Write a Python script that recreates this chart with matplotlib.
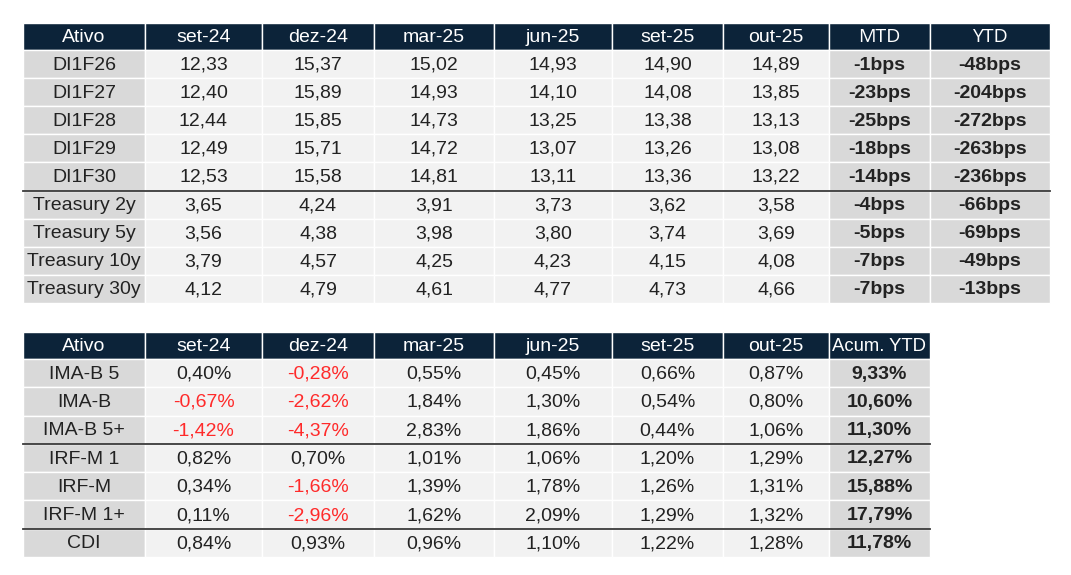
import matplotlib.pyplot as plt
from matplotlib.patches import Rectangle

plt.rcParams['font.family'] = ['Liberation Sans', 'DejaVu Sans']

# ---- data: tabela 1 (taxas) ----
periodos = ["set-24", "dez-24", "mar-25", "jun-25", "set-25", "out-25"]
ativos_juros = ["DI1F26", "DI1F27", "DI1F28", "DI1F29", "DI1F30",
                "Treasury 2y", "Treasury 5y", "Treasury 10y", "Treasury 30y"]
taxas = [
    [12.33, 15.37, 15.02, 14.93, 14.90, 14.89],
    [12.40, 15.89, 14.93, 14.10, 14.08, 13.85],
    [12.44, 15.85, 14.73, 13.25, 13.38, 13.13],
    [12.49, 15.71, 14.72, 13.07, 13.26, 13.08],
    [12.53, 15.58, 14.81, 13.11, 13.36, 13.22],
    [3.65, 4.24, 3.91, 3.73, 3.62, 3.58],
    [3.56, 4.38, 3.98, 3.80, 3.74, 3.69],
    [3.79, 4.57, 4.25, 4.23, 4.15, 4.08],
    [4.12, 4.79, 4.61, 4.77, 4.73, 4.66],
]
mtd_bps = [-1, -23, -25, -18, -14, -4, -5, -7, -7]
ytd_bps = [-48, -204, -272, -263, -236, -66, -69, -49, -13]

# ---- data: tabela 2 (indices) ----
ativos_indices = ["IMA-B 5", "IMA-B", "IMA-B 5+", "IRF-M 1", "IRF-M", "IRF-M 1+", "CDI"]
retornos = [
    [0.40, -0.28, 0.55, 0.45, 0.66, 0.87],
    [-0.67, -2.62, 1.84, 1.30, 0.54, 0.80],
    [-1.42, -4.37, 2.83, 1.86, 0.44, 1.06],
    [0.82, 0.70, 1.01, 1.06, 1.20, 1.29],
    [0.34, -1.66, 1.39, 1.78, 1.26, 1.31],
    [0.11, -2.96, 1.62, 2.09, 1.29, 1.32],
    [0.84, 0.93, 0.96, 1.10, 1.22, 1.28],
]
acum_ytd = [9.33, 10.60, 11.30, 12.27, 15.88, 17.79, 11.78]

# ---- layout (pixels) ----
col_x = [23, 145, 262, 374, 494, 612, 723, 829, 930, 1050]
NAVY = '#0c2339'
G1 = '#d9d9d9'
G2 = '#f2f2f2'
TXT = '#222222'
RED = '#ff2a2a'
FS = 14


def br(v, dec=2, suf=''):
    return f"{v:.{dec}f}".replace('.', ',') + suf


def cell(ax, c, y0, h, color):
    ax.add_patch(Rectangle((col_x[c], y0), col_x[c + 1] - col_x[c], h,
                           facecolor=color, edgecolor='white', linewidth=1.0))


def draw_table(ax, top, head_h, row_h, headers, rows, seps):
    ncol = len(headers)
    for c, hdr in enumerate(headers):
        cell(ax, c, top, head_h, NAVY)
        fam = ['Open Sans', 'DejaVu Sans'] if hdr in ("MTD", "YTD") else None
        size = 13.3 if hdr.startswith("Acum") else FS
        ax.text((col_x[c] + col_x[c + 1]) / 2, top + head_h / 2 + 1, hdr,
                color='white', fontsize=size, ha='center', va='center',
                family=fam)
    y = top + head_h
    for r, row in enumerate(rows):
        for c, (txt, color, bold) in enumerate(row):
            bg = G2 if 1 <= c <= 6 else G1
            cell(ax, c, y, row_h, bg)
            ax.text((col_x[c] + col_x[c + 1]) / 2, y + row_h / 2 + 1, txt,
                    color=color, fontsize=FS, ha='center', va='center',
                    fontweight='bold' if bold else 'normal')
        y += row_h
    for s in seps:
        ys = top + head_h + s * row_h
        ax.plot([col_x[0], col_x[ncol]], [ys, ys], color='#3a3a3a', lw=1.3)


fig = plt.figure(figsize=(10.71, 5.75), dpi=100)
ax = fig.add_axes([0, 0, 1, 1])
ax.set_xlim(0, 1071)
ax.set_ylim(575, 0)
ax.axis('off')

rows1 = []
for i, nome in enumerate(ativos_juros):
    row = [(nome, TXT, False)]
    row += [(br(v), TXT, False) for v in taxas[i]]
    row += [(f"{mtd_bps[i]}bps", TXT, True), (f"{ytd_bps[i]}bps", TXT, True)]
    rows1.append(row)
draw_table(ax, 23, 27, (303 - 50) / 9,
           ["Ativo"] + periodos + ["MTD", "YTD"], rows1, [5])

rows2 = []
for i, nome in enumerate(ativos_indices):
    row = [(nome, TXT, False)]
    row += [(br(v, suf='%'), RED if v < 0 else TXT, False) for v in retornos[i]]
    row += [(br(acum_ytd[i], suf='%'), TXT, True)]
    rows2.append(row)
draw_table(ax, 332, 27, (557 - 359) / 7,
           ["Ativo"] + periodos + ["Acum. YTD"], rows2, [3, 6])

fig.savefig('out.png', dpi=100, facecolor='white')
